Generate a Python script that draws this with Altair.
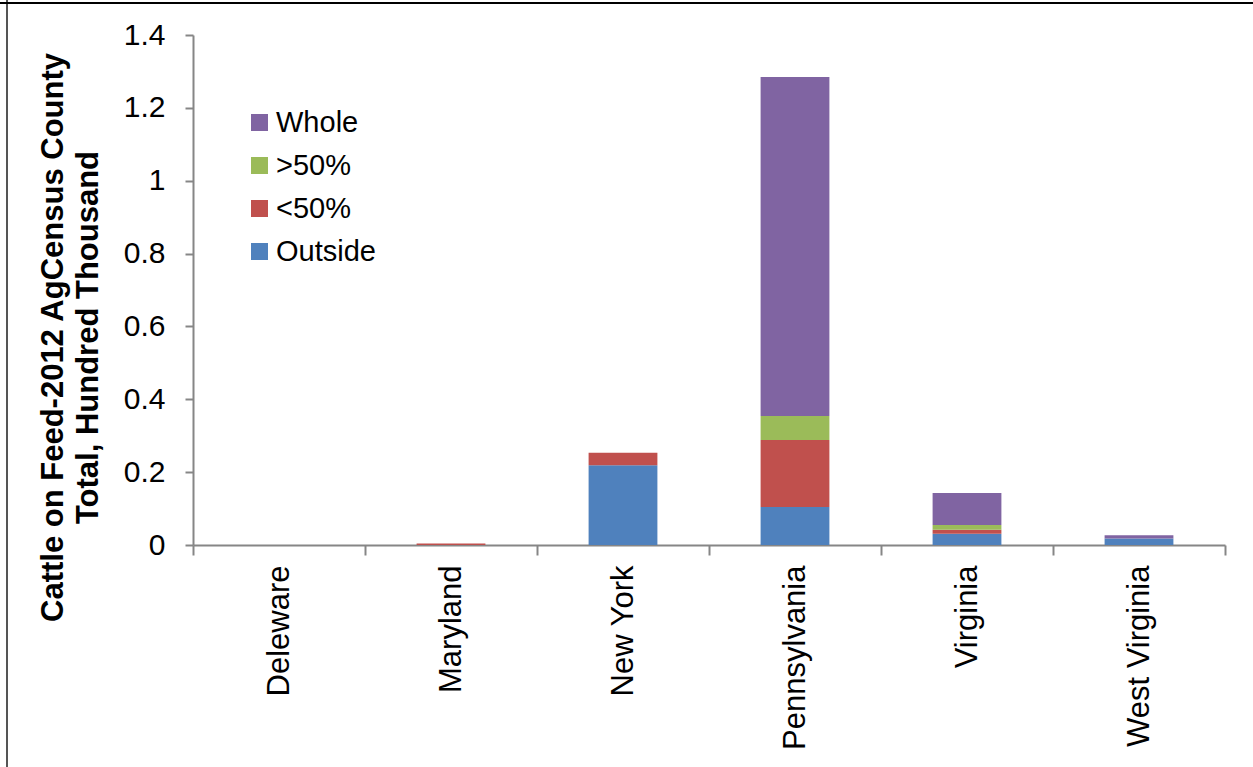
import altair as alt
import pandas as pd

states = ["Deleware", "Maryland", "New York", "Pennsylvania", "Virginia", "West Virginia"]
outside = [0.0, 0.0, 0.219, 0.104, 0.031, 0.018]
lt50 = [0.0, 0.004, 0.034, 0.184, 0.011, 0.0]
gt50 = [0.0, 0.0, 0.0, 0.066, 0.013, 0.0]
whole = [0.0, 0.0, 0.0, 0.931, 0.088, 0.009]

series = ["Whole", ">50%", "<50%", "Outside"]
colors = ["#8064A2", "#9BBB59", "#C0504D", "#4F81BD"]
stack_rank = {"Outside": 0, "<50%": 1, ">50%": 2, "Whole": 3}
y_ticks = [0, 0.2, 0.4, 0.6, 0.8, 1.0, 1.2, 1.4]

rows = []
for name, vals in [("Outside", outside), ("<50%", lt50), (">50%", gt50), ("Whole", whole)]:
    for s, v in zip(states, vals):
        rows.append({"State": s, "Series": name, "Value": v, "Rank": stack_rank[name]})
df = pd.DataFrame(rows)

FONT = "Liberation Sans"

bars = alt.Chart(df).mark_bar(width=alt.RelativeBandSize(0.4)).encode(
    x=alt.X("State:N", sort=states,
            scale=alt.Scale(paddingInner=0, paddingOuter=0),
            axis=alt.Axis(title=None, labelAngle=270, labelAlign="right", labelBaseline="middle",
                          labelFontSize=31, labelPadding=10, labelColor="#000000", labelLimit=400,
                          tickBand="extent", tickSize=10, tickColor="#868686", tickWidth=2,
                          domainColor="#868686", domainWidth=2, labelFont=FONT)),
    y=alt.Y("Value:Q", stack="zero",
            scale=alt.Scale(domain=[0, 1.4], nice=False),
            axis=alt.Axis(values=y_ticks, format=".1~f", grid=False,
                          title=["Cattle on Feed-2012 AgCensus County", "Total, Hundred Thousand"],
                          titleFontSize=31, titleFontWeight="bold", titleFont=FONT,
                          titleColor="#000000", titleLineHeight=35, titleLimit=800,
                          titleAngle=270, titleAlign="center", titleBaseline="alphabetic",
                          titleX=-131, titleY=302,
                          labelFontSize=30, labelFont=FONT, labelColor="#000000", labelPadding=20,
                          tickSize=8, tickColor="#868686", tickWidth=2,
                          domainColor="#868686", domainWidth=2)),
    color=alt.Color("Series:N",
                    scale=alt.Scale(domain=series, range=colors),
                    legend=alt.Legend(title=None, orient="none", legendX=52, legendY=73,
                                      symbolType="square", symbolSize=289, symbolStrokeWidth=0,
                                      labelFontSize=29, labelFont=FONT, labelColor="#000000",
                                      labelOffset=2, rowPadding=13, padding=0)),
    order=alt.Order("Rank:Q", sort="ascending"),
)

frame_df = pd.DataFrame({"k": [0]})
left_border = alt.Chart(frame_df).mark_rule(color="#555555", strokeWidth=2).encode(
    x=alt.value(-186), y=alt.value(-35), y2=alt.value(732))
top_border = alt.Chart(frame_df).mark_rule(color="#000000", strokeWidth=2).encode(
    x=alt.value(-193), x2=alt.value(1060), y=alt.value(-32))

chart = alt.layer(bars, left_border, top_border).properties(
    width=1032, height=510,
    autosize=alt.AutoSizeParams(type="none"),
    padding={"left": 193, "top": 35, "right": 28, "bottom": 222},
    background="#ffffff",
).configure_view(stroke=None)

chart.save("out.html", embed_options={"renderer": "svg", "actions": False})
